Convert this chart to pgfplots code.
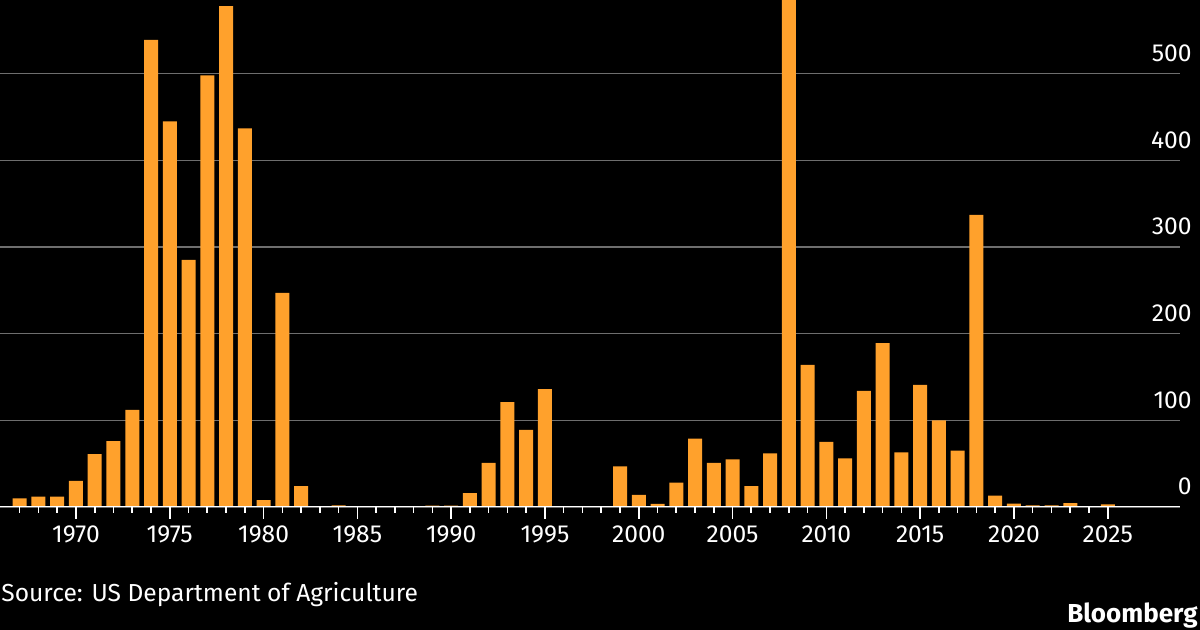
\documentclass[border=0pt]{standalone}
\usepackage{pgfplots}
\pgfplotsset{compat=1.18}
\usepackage{fontspec}
\setmainfont{Fira Sans}
\definecolor{barorange}{RGB}{255,161,44}
\definecolor{gridgray}{RGB}{110,110,110}
\begin{document}
\begin{tikzpicture}
\clip (0,0) rectangle (600pt,315pt);
\fill[black] (0,0) rectangle (600pt,315pt);
\begin{axis}[
  at={(0pt,61.5pt)}, anchor=south west,
  scale only axis, width=590pt, height=253.5pt,
  xmin=1965.95, xmax=2028.85, ymin=0, ymax=585,
  ybar, bar width=7pt,
  axis line style={draw=none},
  xtick={1970,1975,...,2025},
  minor xtick={1967,...,2025},
  ytick={0,100,...,500},
  yticklabel pos=right,
  ytick style={draw=none},
  xtick pos=bottom,
  tick align=outside,
  major tick length=6pt, minor tick length=3pt,
  x tick style={white, line width=0.8pt},
  ymajorgrids, grid style={gridgray, line width=0.6pt},
  /pgf/number format/1000 sep={},
  /pgf/number format/assume math mode=true,
  xticklabel style={font=\fontsize{12.3}{14}\selectfont, text=white},
  yticklabel style={font=\fontsize{12.3}{14}\selectfont, text=white, anchor=base east, inner sep=0pt, yshift=6pt},
]
\addplot[fill=barorange, draw=none] coordinates {
(1967,10) (1968,12) (1969,12) (1970,30) (1971,61) (1972,76) (1973,112) (1974,539)
(1975,445) (1976,285) (1977,498) (1978,578) (1979,437) (1980,8) (1981,247) (1982,24)
(1983,0.5) (1984,2) (1985,0) (1986,0) (1987,0) (1988,0) (1989,1.5) (1990,1.5)
(1991,16) (1992,51) (1993,121) (1994,89) (1995,136) (1996,0) (1997,0) (1998,0)
(1999,47) (2000,14) (2001,3.5) (2002,28) (2003,79) (2004,51) (2005,55) (2006,24)
(2007,62) (2008,700) (2009,164) (2010,75) (2011,56) (2012,134) (2013,189) (2014,63)
(2015,141) (2016,100) (2017,65) (2018,337) (2019,13) (2020,4) (2021,2) (2022,2)
(2023,4.5) (2024,0.5) (2025,3)
};
\draw[white, line width=1pt] (axis cs:1965.95,0) -- (axis cs:2028.85,0);
\end{axis}
\node[anchor=base west, text=white, inner sep=0pt, font=\fontsize{12.3}{14}\selectfont] at (0.5pt,14pt) {Source: US Department of Agriculture};
\node[anchor=base east, text=white, inner sep=0pt, font=\bfseries\fontsize{13}{15}\selectfont] at (599pt,3.5pt) {Bloomberg};
\end{tikzpicture}
\end{document}
